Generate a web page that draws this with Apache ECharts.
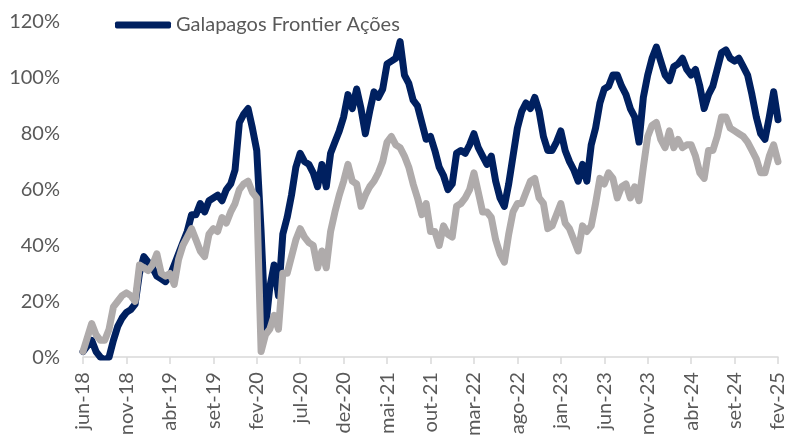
<!DOCTYPE html>
<html>
<head>
<meta charset="utf-8">
<script src="https://cdn.jsdelivr.net/npm/echarts@6/dist/echarts.min.js"></script>
<style>
html,body{margin:0;padding:0;background:#fff;}
#chart{width:788px;height:439px;}
</style>
</head>
<body>
<div id="chart"></div>
<script>
// Tick labels every 5 months (one every 10 half-month points)
var tickLabels = ['jun-18','nov-18','abr-19','set-19','fev-20','jul-20','dez-20','mai-21','out-21','mar-22','ago-22','jan-23','jun-23','nov-23','abr-24','set-24','fev-25'];

// Half-month observations, in percent
var galapagos = [
  2,4,6,2,0,-1,0,6,11,14,
  16,17,19,30,36,34,32,29,28,27,
  29,33,37,41,45,51,51,55,52,56,
  57,58,56,60,62,67,84,87,89,82,
  74,45,10,25,33,22,44,50,58,68,
  73,70,69,66,61,69,61,73,77,81,
  86,94,89,96,89,80,88,95,93,96,
  105,106,107,113,101,98,92,90,84,78,
  79,74,68,65,60,62,73,74,73,76,
  80,75,72,69,72,63,57,54,62,72,
  82,88,91,89,93,88,79,74,74,77,
  81,74,70,67,63,69,63,76,82,91,
  96,97,101,101,97,94,89,86,77,93,
  101,107,111,106,101,99,104,105,107,103,
  101,103,97,89,94,97,103,109,110,107,
  106,107,104,101,94,86,80,78,86,95,
  85
];
var benchmark = [
  2,7,12,8,6,6,10,18,20,22,
  23,22,20,33,32,31,33,37,30,29,
  30,26,35,40,43,46,42,38,36,44,
  46,45,50,48,52,55,60,62,63,59,
  57,2,8,10,15,10,30,30,36,42,
  46,43,41,40,32,38,32,45,52,58,
  63,69,63,62,54,58,61,63,66,70,
  77,79,76,75,72,68,62,57,51,55,
  45,45,40,47,44,43,54,55,57,60,
  66,59,52,52,50,42,37,34,44,52,
  55,55,59,63,64,57,55,46,47,51,
  55,48,46,42,38,47,45,47,55,64,
  62,66,64,57,61,62,57,61,56,68,
  79,83,84,78,75,81,75,78,75,76,
  76,72,66,64,74,74,79,86,86,82,
  81,80,79,77,74,71,66,66,72,76,
  70
];

var categories = galapagos.map(function(_, i){ return String(i); });

var chart = echarts.init(document.getElementById('chart'), null, {renderer:'canvas'});
var font = 'Lato';
chart.setOption({
  animation:false,
  backgroundColor:'#ffffff',
  grid:{left:83, right:9, top:22, bottom:77, containLabel:false},
  legend:{
    data:[{name:'Galapagos Frontier Ações', icon:'roundRect'}],
    left:115, top:15, padding:0,
    itemWidth:56, itemHeight:7,
    textStyle:{fontFamily:font, fontSize:20, color:'#595959'}
  },
  xAxis:{
    type:'category',
    data:categories,
    boundaryGap:false,
    axisLine:{lineStyle:{color:'#D9D9D9', width:1.5}},
    axisTick:{
      show:true, length:7, lineStyle:{color:'#D9D9D9', width:1.5},
      interval:function(i){ return i % 10 === 0; }
    },
    axisLabel:{
      rotate:90, margin:15,
      fontFamily:font, fontSize:20, color:'#595959',
      interval:function(i){ return i % 10 === 0; },
      formatter:function(v, i){ return tickLabels[i/10] || ''; }
    },
    splitLine:{show:false}
  },
  yAxis:{
    type:'value', min:0, max:120, interval:20,
    axisLine:{show:false}, axisTick:{show:false},
    splitLine:{show:false},
    axisLabel:{fontFamily:font, fontSize:20, color:'#595959', margin:23,
      formatter:function(v){ return v + '%'; }}
  },
  series:[
    {
      name:'Galapagos Frontier Ações', type:'line', data:galapagos,
      symbol:'none', smooth:false,
      lineStyle:{color:'#002060', width:7, cap:'round', join:'round'},
      itemStyle:{color:'#002060'}
    },
    {
      name:'Benchmark', type:'line', data:benchmark,
      symbol:'none', smooth:false,
      lineStyle:{color:'#AFABAB', width:7, cap:'round', join:'round'},
      itemStyle:{color:'#AFABAB'}
    }
  ]
});
</script>
</body>
</html>
